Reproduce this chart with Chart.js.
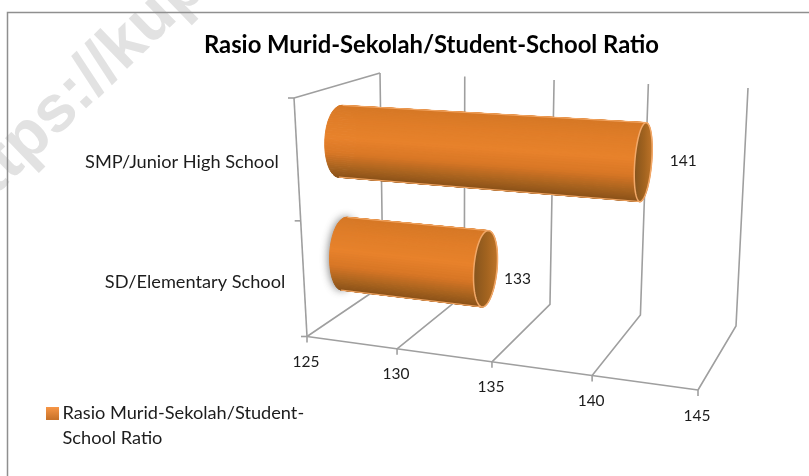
<!DOCTYPE html>
<html lang="id">
<head>
    <meta charset="UTF-8">
    <title>Rasio Murid-Sekolah</title>
    <script src="https://cdn.jsdelivr.net/npm/chart.js"></script>
    <style>
        html, body { margin: 0; padding: 0; background: #fff; }
        canvas { display: block; }
    </style>
</head>
<body>
    <canvas id="grafik" width="809" height="476"></canvas>

    <script>
        const categories = ['SMP/Junior High School', 'SD/Elementary School'];
        const values = [141, 133];
        const xTicks = [125, 130, 135, 140, 145];
        const chartTitle = 'Rasio Murid-Sekolah/Student-School Ratio';
        const seriesName = 'Rasio Murid-Sekolah/Student-School Ratio';
        const legendLines = ['Rasio Murid-Sekolah/Student-', 'School Ratio'];

        const FONT = 'Lato, "Open Sans", sans-serif';
        const GRID = '#9f9f9f';
        const TEXT = '#1c1c1c';

        // box corners on screen: F = front, B = back, T/B = top/bottom, L/R = axis min/max
        const box = {
            FTL: [294, 98], FTR: [712, 123], FBL: [307, 336.5], FBR: [698, 390],
            BTL: [380, 73], BTR: [748, 88], BBL: [383, 285], BBR: [736, 326]
        };
        const SKEW = 1.114;     // foreshortening along the value axis
        const BAR_DEPTH = 0.52; // bars sit in the middle of the box
        const DEPTH_RADIUS = 0.19;

        function mix(a, b, f) {
            return [a[0] + (b[0] - a[0]) * f, a[1] + (b[1] - a[1]) * f];
        }

        // t along value axis, v top to bottom, w front to back
        function project(t, v, w) {
            const front = mix(mix(box.FTL, box.FTR, t), mix(box.FBL, box.FBR, t), v);
            const back = mix(mix(box.BTL, box.BTR, t), mix(box.BBL, box.BBR, t), v);
            return mix(front, back, w);
        }

        function normX(chart, px) {
            const a = chart.chartArea;
            const u = (px - a.left) / (a.right - a.left);
            return u / (u + (1 - u) * SKEW);
        }

        function normY(chart, py) {
            const a = chart.chartArea;
            return (py - a.top) / (a.bottom - a.top);
        }

        function line(ctx, p, q) {
            ctx.beginPath();
            ctx.moveTo(p[0], p[1]);
            ctx.lineTo(q[0], q[1]);
            ctx.stroke();
        }

        function surfaceColor(s) {
            const stops = [
                [0, [214, 120, 38]], [0.2, [224, 125, 40]], [0.45, [232, 130, 43]],
                [0.65, [217, 119, 38]], [0.85, [168, 99, 31]], [1, [136, 80, 24]]
            ];
            for (let i = 1; i < stops.length; i++) {
                if (s <= stops[i][0]) {
                    const f = (s - stops[i - 1][0]) / (stops[i][0] - stops[i - 1][0]);
                    const c = stops[i - 1][1].map((x, k) => Math.round(x + (stops[i][1][k] - x) * f));
                    return `rgb(${c[0]},${c[1]},${c[2]})`;
                }
            }
            return 'rgb(136,80,24)';
        }

        function drawCylinder(ctx, t0, t1, v, rv, halo) {
            const w = BAR_DEPTH;
            const N = 96;
            const ring = t => {
                const pts = [];
                for (let i = 0; i < N; i++) {
                    const a = i / N * Math.PI * 2;
                    pts.push(project(t, v + rv * Math.cos(a), w + DEPTH_RADIUS * Math.sin(a)));
                }
                return pts;
            };
            const left = ring(t0), right = ring(t1);
            const c0 = project(t0, v, w), c1 = project(t1, v, w);
            const path = pts => {
                ctx.beginPath();
                pts.forEach((p, i) => i ? ctx.lineTo(p[0], p[1]) : ctx.moveTo(p[0], p[1]));
                ctx.closePath();
            };

            // grey glow seen on the left end of the short bar
            if (halo) {
                ctx.save();
                ctx.shadowColor = 'rgba(90,90,90,0.8)';
                ctx.shadowBlur = 8;
                ctx.shadowOffsetX = -1;
                ctx.fillStyle = '#a8a8a8';
                path(left);
                ctx.fill();
                ctx.restore();
            }

            // strips far to near so the front of the tube wins
            const order = [];
            for (let i = 0; i < N; i++) order.push(i);
            order.sort((a, b) => Math.sin((b + 0.5) / N * Math.PI * 2) - Math.sin((a + 0.5) / N * Math.PI * 2));
            const ext = Math.hypot(
                project(t0, v + rv, w)[1] - c0[1],
                project(t0, v, w + DEPTH_RADIUS)[1] - c0[1]
            );
            order.forEach(i => {
                const j = (i + 1) % N;
                const s = (((left[i][1] + left[j][1]) / 2 - c0[1]) / ext + 1) / 2;
                const col = surfaceColor(Math.max(0, Math.min(1, s)));
                ctx.fillStyle = col;
                ctx.strokeStyle = col;
                ctx.lineWidth = 1;
                path([left[i], left[j], right[j], right[i]]);
                ctx.fill();
                ctx.stroke();
            });

            // silhouette lines: tangent points of the rings along the axis direction
            const ax = c1[0] - c0[0], ay = c1[1] - c0[1];
            let iTop = 0, iBot = 0, minC = Infinity, maxC = -Infinity;
            left.forEach((p, i) => {
                const c = ax * (p[1] - c0[1]) - ay * (p[0] - c0[0]);
                if (c < minC) { minC = c; iTop = i; }
                if (c > maxC) { maxC = c; iBot = i; }
            });
            ctx.strokeStyle = 'rgba(242,166,100,0.95)';
            ctx.lineWidth = 1.2;
            line(ctx, left[iTop], right[iTop]);
            line(ctx, left[iBot], right[iBot]);

            // open end of the tube
            const xs = right.map(p => p[0]);
            const g = ctx.createLinearGradient(Math.min(...xs), c1[1], Math.max(...xs), c1[1]);
            g.addColorStop(0, '#85541d');
            g.addColorStop(0.55, '#a2631f');
            g.addColorStop(1, '#bd7328');
            ctx.fillStyle = g;
            path(right);
            ctx.fill();
            ctx.strokeStyle = '#f2a868';
            ctx.lineWidth = 1.5;
            ctx.stroke();
        }

        const watermark = {
            id: 'watermark',
            beforeDraw(chart) {
                const ctx = chart.ctx;
                ctx.save();
                ctx.translate(-4, 170);
                ctx.rotate(-44 * Math.PI / 180);
                ctx.font = 'bold 66px "Liberation Sans", sans-serif';
                ctx.fillStyle = '#e2e2e2';
                ctx.textBaseline = 'middle';
                ctx.fillText('https://kup', -60, 0);
                ctx.restore();

                ctx.strokeStyle = '#8f8f8f';
                ctx.lineWidth = 1.5;
                ctx.beginPath();
                ctx.moveTo(809, 12.5);
                ctx.lineTo(7.5, 12.5);
                ctx.lineTo(7.5, 476);
                ctx.stroke();
            }
        };

        const box3d = {
            id: 'box3d',
            // replaces the flat bars: everything is read from the scales and bar elements
            beforeDatasetsDraw(chart) {
                const ctx = chart.ctx;
                const xs = chart.scales.x, ys = chart.scales.y;
                ctx.save();
                ctx.lineCap = 'butt';
                ctx.strokeStyle = GRID;
                ctx.lineWidth = 1.6;

                // walls and floor
                xTicks.forEach(val => {
                    const t = normX(chart, xs.getPixelForValue(val));
                    const f = project(t, 1, 0), bb = project(t, 1, 1), bt = project(t, 0, 1);
                    ctx.beginPath();
                    ctx.moveTo(f[0], f[1]);
                    ctx.lineTo(bb[0], bb[1]);
                    ctx.lineTo(bt[0], bt[1]);
                    ctx.stroke();
                    line(ctx, f, [f[0], f[1] + 6]);
                });
                line(ctx, project(0, 1, 0), project(1, 1, 0));
                line(ctx, project(0, 0, 0), project(0, 1, 0));
                line(ctx, project(0, 0, 0), project(0, 0, 1));
                [0, 0.515, 1].forEach(v => {
                    const p = project(0, v, 0);
                    line(ctx, p, [p[0] - 6, p[1]]);
                });

                // axis labels
                ctx.font = '15.5px ' + FONT;
                ctx.fillStyle = TEXT;
                ctx.textBaseline = 'middle';
                ctx.textAlign = 'center';
                xTicks.forEach(val => {
                    const f = project(normX(chart, xs.getPixelForValue(val)), 1, 0);
                    ctx.fillText(String(val), f[0] - 1, f[1] + 25.5);
                });
                ctx.font = '18.2px ' + FONT;
                ctx.textAlign = 'right';
                categories.forEach((name, i) => {
                    const p = project(0, normY(chart, ys.getPixelForValue(i)), 0);
                    ctx.fillText(name, p[0] - 18.5, p[1] + 5);
                });

                // bars
                const bars = chart.getDatasetMeta(0).data;
                bars.forEach((bar, i) => {
                    const b = bar.getProps(['x', 'y', 'base', 'height']);
                    const t0 = normX(chart, b.base), t1 = normX(chart, b.x);
                    const rv = b.height / 2 / chart.chartArea.height;
                    drawCylinder(ctx, t0, t1, normY(chart, b.y), rv, categories[i].startsWith('SD'));
                });

                // data labels
                ctx.font = '15.5px ' + FONT;
                ctx.fillStyle = TEXT;
                ctx.textAlign = 'center';
                bars.forEach((bar, i) => {
                    const b = bar.getProps(['x', 'y']);
                    const p = project(normX(chart, b.x), normY(chart, b.y), BAR_DEPTH);
                    const first = i === 0;
                    ctx.fillText(String(values[i]), p[0] + (first ? 40 : 32), p[1] + (first ? -1 : 10));
                });

                // legend, wrapped like the original
                const sw = ctx.createLinearGradient(0, 407, 0, 419);
                sw.addColorStop(0, '#f79646');
                sw.addColorStop(1, '#c9732a');
                ctx.fillStyle = sw;
                ctx.fillRect(46, 407, 13, 13);
                ctx.font = '18.2px ' + FONT;
                ctx.fillStyle = TEXT;
                ctx.textAlign = 'left';
                legendLines.forEach((txt, i) => ctx.fillText(txt, 62.5, 413 + i * 25));

                ctx.restore();
                return false;
            }
        };

        new Chart(document.getElementById('grafik').getContext('2d'), {
            type: 'bar',
            data: {
                labels: categories,
                datasets: [{
                    label: seriesName,
                    data: values,
                    base: xTicks[0],
                    backgroundColor: '#e8822b',
                    barPercentage: 0.63,
                    categoryPercentage: 1
                }]
            },
            options: {
                indexAxis: 'y',
                responsive: false,
                animation: false,
                layout: { padding: { left: 54, top: 31.5, right: 0, bottom: 60 } },
                plugins: {
                    legend: { display: false },
                    tooltip: { enabled: false },
                    title: {
                        display: true,
                        text: chartTitle,
                        color: '#000',
                        font: { family: FONT, size: 23.8, weight: 'bold' },
                        padding: { top: 0, bottom: 10 }
                    }
                },
                scales: {
                    x: { display: false, min: xTicks[0], max: xTicks[xTicks.length - 1], ticks: { stepSize: xTicks[1] - xTicks[0] } },
                    y: { display: false }
                }
            },
            plugins: [watermark, box3d]
        });
    </script>
</body>
</html>
